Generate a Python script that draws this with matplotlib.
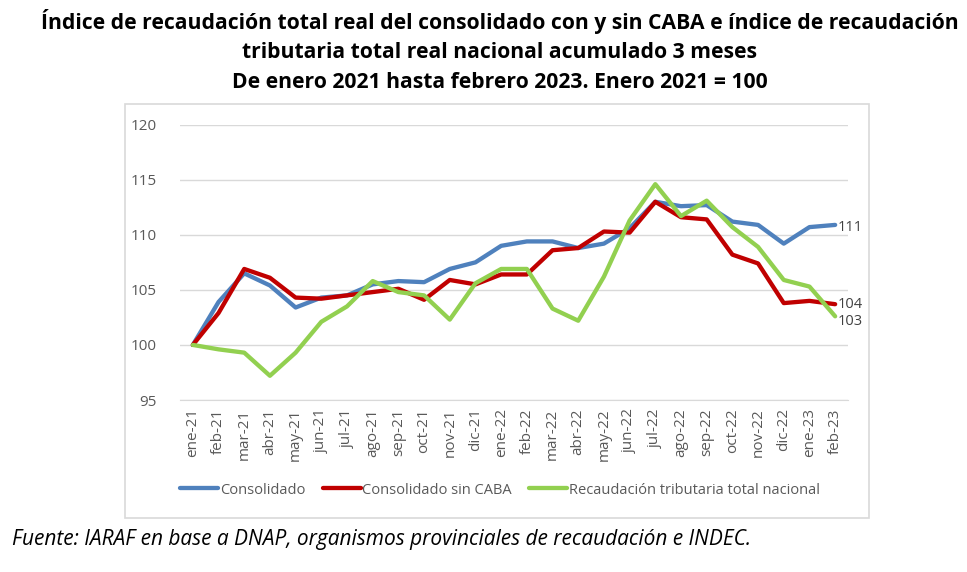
# Índice de recaudación: consolidado con y sin CABA vs. recaudación nacional
import matplotlib.pyplot as plt
from matplotlib.patches import Rectangle

plt.rcParams['font.family'] = ['Open Sans', 'DejaVu Sans']

# Data
meses = ['ene-21', 'feb-21', 'mar-21', 'abr-21', 'may-21', 'jun-21', 'jul-21',
         'ago-21', 'sep-21', 'oct-21', 'nov-21', 'dic-21', 'ene-22', 'feb-22',
         'mar-22', 'abr-22', 'may-22', 'jun-22', 'jul-22', 'ago-22', 'sep-22',
         'oct-22', 'nov-22', 'dic-22', 'ene-23', 'feb-23']

consolidado = [100.0, 103.9, 106.5, 105.4, 103.4, 104.3, 104.5, 105.5, 105.8, 105.7,
               106.9, 107.5, 109.0, 109.4, 109.4, 108.8, 109.2, 110.6, 113.0, 112.6,
               112.7, 111.2, 110.9, 109.2, 110.7, 110.9]

consolidado_sin_caba = [100.0, 102.9, 106.9, 106.1, 104.3, 104.2, 104.5, 104.8, 105.1, 104.1,
                        105.9, 105.5, 106.4, 106.4, 108.6, 108.8, 110.3, 110.2, 113.0, 111.6,
                        111.4, 108.2, 107.4, 103.8, 104.0, 103.7]

recaudacion_nacional = [100.0, 99.6, 99.3, 97.2, 99.3, 102.1, 103.5, 105.8, 104.8, 104.5,
                        102.3, 105.6, 106.9, 106.9, 103.3, 102.2, 106.2, 111.3, 114.6, 111.7,
                        113.1, 110.7, 108.9, 105.9, 105.3, 102.6]

etiquetas_finales = ['111', '104', '103']

W, H = 967, 572
fig = plt.figure(figsize=(W / 100, H / 100), dpi=100)

# chart box border
fig.patches.append(Rectangle((125 / W, 1 - 518 / H), 744 / W, 414 / H,
                             transform=fig.transFigure, fill=False,
                             edgecolor='#D9D9D9', lw=1.2))

ax = fig.add_axes([180 / W, 1 - 400 / H, 668 / W, 275.3 / H])

x = range(len(meses))
series = [
    (consolidado, '#4F81BD', 'Consolidado'),
    (consolidado_sin_caba, '#C00000', 'Consolidado sin CABA'),
    (recaudacion_nacional, '#92D050', 'Recaudación tributaria total nacional'),
]
for vals, color, label in series:
    ax.plot(x, vals, color=color, lw=3.1, label=label, solid_capstyle='round',
            solid_joinstyle='round')

# end labels
offsets = [-0.2, 0.0, -0.45]
for (vals, _, _), txt, off in zip(series, etiquetas_finales, offsets):
    ax.annotate(txt, (len(meses) - 1, vals[-1] + off), xytext=(2, 0),
                textcoords='offset points', va='center', ha='left',
                fontsize=10.5, color='#404040')

ax.set_xlim(-0.5, len(meses) - 0.5)
ax.set_ylim(95, 120)
ax.set_yticks([95, 100, 105, 110, 115, 120])
ax.set_xticks(list(x))
ax.set_xticklabels(meses, rotation=90)
ax.tick_params(axis='both', length=0, colors='#595959', labelsize=11)
ax.tick_params(axis='y', pad=17)
ax.tick_params(axis='x', pad=6)
ax.grid(axis='y', color='#D9D9D9', lw=1)
ax.set_axisbelow(True)
for s in ['top', 'right', 'left']:
    ax.spines[s].set_visible(False)
ax.spines['bottom'].set_color('#D9D9D9')

leg = ax.legend(loc='center', bbox_to_anchor=(500 / W, 1 - 490 / H),
                bbox_transform=fig.transFigure, ncol=3, frameon=False,
                fontsize=10.5, handlelength=2.6, handletextpad=0.1,
                columnspacing=1.2)
for t in leg.get_texts():
    t.set_color('#595959')

# title
titulo = ['Índice de recaudación total real del consolidado con y sin CABA e índice de recaudación',
          'tributaria total real nacional acumulado 3 meses',
          'De enero 2021 hasta febrero 2023. Enero 2021 = 100']
for i, linea in enumerate(titulo):
    fig.text(500 / W, 1 - (22 + 30 * i) / H, linea, ha='center', va='center',
             fontsize=15.2, fontweight='bold', color='black')

fig.text(12 / W, 1 - 540 / H,
         'Fuente: IARAF en base a DNAP, organismos provinciales de recaudación e INDEC.',
         ha='left', va='center', fontsize=15, style='italic', color='black')

fig.savefig('out.png', dpi=100)
